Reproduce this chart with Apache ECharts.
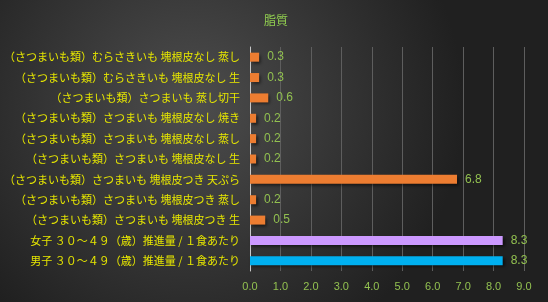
<!DOCTYPE html>
<html>
<head>
<meta charset="utf-8">
<script src="https://cdn.jsdelivr.net/npm/echarts@6/dist/echarts.min.js"></script>
<style>
  html, body { margin: 0; padding: 0; }
  #chart { width: 548px; height: 302px; }
</style>
</head>
<body>
<div id="chart"></div>
<script>
// 上から順の項目名
const categories = [
  '（さつまいも類）むらさきいも 塊根皮なし 蒸し',
  '（さつまいも類）むらさきいも 塊根皮なし 生',
  '（さつまいも類）さつまいも 蒸し切干',
  '（さつまいも類）さつまいも 塊根皮なし 焼き',
  '（さつまいも類）さつまいも 塊根皮なし 蒸し',
  '（さつまいも類）さつまいも 塊根皮なし 生',
  '（さつまいも類）さつまいも 塊根皮つき 天ぷら',
  '（さつまいも類）さつまいも 塊根皮つき 蒸し',
  '（さつまいも類）さつまいも 塊根皮つき 生',
  '女子 ３０～４９（歳）推進量 / １食あたり',
  '男子 ３０～４９（歳）推進量 / １食あたり'
];
const values = [0.3, 0.3, 0.6, 0.2, 0.2, 0.2, 6.8, 0.2, 0.5, 8.3, 8.3];
const xTicks = [0, 1, 2, 3, 4, 5, 6, 7, 8, 9];

const chart = echarts.init(document.getElementById('chart'));

function barColor(i) {
  if (categories[i].indexOf('男子') === 0) return '#00b0f0';
  if (categories[i].indexOf('女子') === 0) return '#cc99ff';
  return '#ed7d31';
}

chart.setOption({
  backgroundColor: {
    type: 'radial', x: 0.35, y: 0.35, r: 0.9,
    colorStops: [
      { offset: 0, color: '#4d4d4d' },
      { offset: 1, color: '#202020' }
    ]
  },
  animation: false,
  title: {
    text: '脂質',
    left: 259,
    top: 9,
    textStyle: { color: '#92d050', fontSize: 12, fontWeight: 'normal', fontFamily: 'Noto Sans CJK JP' }
  },
  grid: { left: 250, right: 24, top: 47, bottom: 31 },
  xAxis: {
    type: 'value',
    min: xTicks[0],
    max: xTicks[xTicks.length - 1],
    interval: 1,
    axisLine: { show: false },
    axisTick: { show: false },
    splitLine: { lineStyle: { color: '#5e5e5e', width: 1 } },
    axisLabel: {
      color: '#92c050',
      fontSize: 11,
      fontFamily: 'Liberation Sans',
      margin: 10,
      formatter: v => v.toFixed(1)
    }
  },
  yAxis: {
    type: 'category',
    inverse: true,
    data: categories,
    axisLine: { show: true, lineStyle: { color: '#c8c8c8', width: 1 } },
    axisTick: { show: false },
    axisLabel: {
      color: '#e6e600',
      fontSize: 11,
      fontFamily: 'Noto Sans CJK JP',
      margin: 10
    }
  },
  series: [{
    type: 'bar',
    data: values,
    barWidth: 9,
    itemStyle: {
      color: p => barColor(p.dataIndex),
      shadowColor: 'rgba(0,0,0,0.55)',
      shadowBlur: 3,
      shadowOffsetX: 2,
      shadowOffsetY: 2
    },
    label: {
      show: true,
      position: 'right',
      distance: 8,
      color: '#92c050',
      fontSize: 12,
      fontFamily: 'Liberation Sans',
      formatter: p => p.value.toFixed(1)
    }
  }]
});
</script>
</body>
</html>
